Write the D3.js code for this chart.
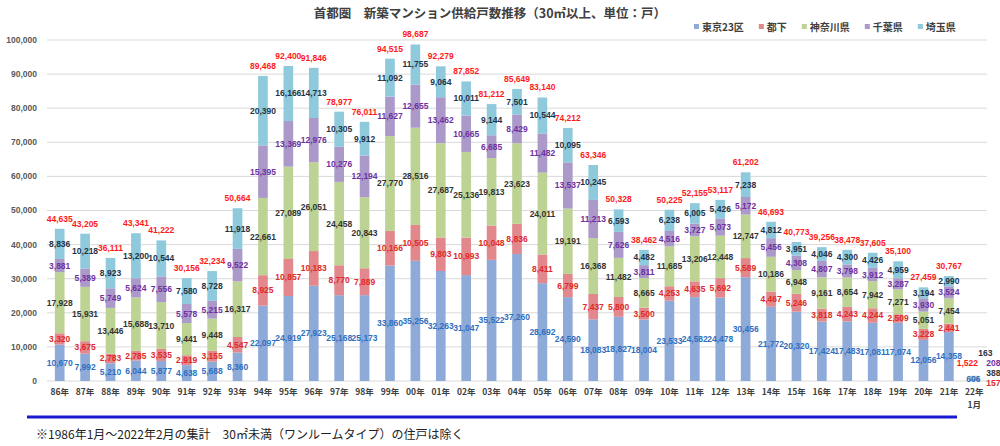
<!DOCTYPE html>
<html lang="ja">
<head>
    <meta charset="UTF-8">
    <title>首都圏 新築マンション供給戸数推移</title>
    <script src="https://cdnjs.cloudflare.com/ajax/libs/d3/7.8.5/d3.min.js"></script>
    <style>
        body {
            margin: 0;
            padding: 0;
            background: #ffffff;
            font-family: "Noto Sans CJK JP", "Liberation Sans", sans-serif;
        }
        .grid line { stroke: #d9d9d9; }
        .val { font-family: "Liberation Sans", Arial, sans-serif; font-size: 8.5px; font-weight: bold; }
        .axis-y { font-family: "Liberation Sans", Arial, sans-serif; font-size: 8.5px; font-weight: bold; fill: #595959; }
        .axis-x { font-family: "Noto Sans CJK JP", sans-serif; font-size: 8.5px; font-weight: bold; fill: #404040; }
    </style>
</head>
<body>
<div id="chart"></div>
<script>
// 年（22年は1月のみ）
const years = ["86年","87年","88年","89年","90年","91年","92年","93年","94年","95年","96年","97年","98年","99年",
    "00年","01年","02年","03年","04年","05年","06年","07年","08年","09年","10年","11年","12年","13年","14年",
    "15年","16年","17年","18年","19年","20年","21年","22年|1月"];

const seriesNames = ["東京23区", "都下", "神奈川県", "千葉県", "埼玉県"];

const tokyo23 = [10670,7992,5210,6044,5877,4638,5688,8360,22097,24919,27923,25168,25173,33860,35256,32263,31047,
    35522,37260,28692,24590,18083,18827,18004,23533,24582,24478,30456,21772,20320,17424,17483,17081,17074,12056,14358,606];
const toka = [3320,3675,2783,2785,3535,2919,3155,4547,8925,10857,10183,8770,7889,10166,10505,9803,10993,
    10048,8836,8411,6799,7437,5800,3500,4253,4635,5692,5589,4467,5246,3818,4243,4244,2509,3228,2441,157];
const kanagawa = [17928,15931,13446,15688,13710,9441,9448,16317,22661,27089,26051,24458,20843,27770,28516,27687,25136,
    19813,23623,24011,19191,16368,11482,8665,11685,13206,12448,12747,10186,6948,9161,8654,7942,7271,5051,7454,388];
const chiba = [3881,5389,5749,5624,7556,5578,5215,9522,15395,13369,12976,10276,12194,11627,12655,13462,10665,
    6685,8429,11482,13537,11213,7626,3811,4516,3727,5073,5172,5456,4308,4807,3798,3912,3287,3930,3524,208];
const saitama = [8836,10218,8923,13200,10544,7580,8728,11918,20390,16166,14713,10305,9912,11092,11755,9064,10011,
    9144,7501,10544,10095,10245,6593,4482,6238,6005,5426,7238,4812,3951,4046,4300,4426,4959,3194,2990,163];
const totals = [44635,43205,36111,43341,41222,30156,32234,50664,89468,92400,91846,78977,76011,94515,98687,92279,87852,
    81212,85649,83140,74212,63346,50328,38462,50225,52155,53117,61202,46693,40773,39256,38478,37605,35100,27459,30767,1522];

const yTicks = [0,10000,20000,30000,40000,50000,60000,70000,80000,90000,100000];

const fillColors = ["#8eaad8", "#e2878b", "#bdd394", "#aa99c9", "#8ec9dc"];
const labelColors = ["#2e6fc0", "#e02a2a", "#333333", "#7030a0", "#1f3347"];

const width = 1000, height = 446;
const svg = d3.select("#chart").append("svg")
    .attr("width", width)
    .attr("height", height);

const x = d3.scaleBand().domain(years).range([47, 987]);
const y = d3.scaleLinear().domain([0, 100000]).range([381, 40]);
const barW = x.bandwidth() * 0.38;

// グリッド
svg.append("g").attr("class", "grid")
    .selectAll("line").data(yTicks).enter().append("line")
    .attr("x1", 47).attr("x2", 987)
    .attr("y1", d => y(d)).attr("y2", d => y(d));

// Y軸ラベル
svg.append("g").selectAll("text").data(yTicks).enter().append("text")
    .attr("class", "axis-y")
    .attr("x", 37).attr("y", d => y(d))
    .attr("dy", "0.35em")
    .attr("text-anchor", "end")
    .text(d => d3.format(",")(d));

// 積み上げ
const rows = years.map((yr, i) => ({
    year: yr,
    "東京23区": tokyo23[i], "都下": toka[i], "神奈川県": kanagawa[i], "千葉県": chiba[i], "埼玉県": saitama[i]
}));
const stacked = d3.stack().keys(seriesNames)(rows);

const bars = svg.append("g");
stacked.forEach((layer, si) => {
    bars.append("g").attr("fill", fillColors[si])
        .selectAll("rect").data(layer).enter().append("rect")
        .attr("x", d => x(d.data.year) + (x.bandwidth() - barW) / 2)
        .attr("y", d => y(d[1]))
        .attr("width", barW)
        .attr("height", d => y(d[0]) - y(d[1]));
});

// 22年1月は小さいので値ラベルを外側に並べる（ピクセルオフセット）
const lastIdx = years.length - 1;
const lastDx = [-1, 19, 19, 19, 11];
const lastDy = [-2, 2, -8, -18, -28];

const labels = svg.append("g");
stacked.forEach((layer, si) => {
    labels.append("g").selectAll("text").data(layer).enter().append("text")
        .attr("class", "val")
        .attr("fill", labelColors[si])
        .attr("text-anchor", "middle")
        .attr("dy", "0.35em")
        .attr("x", (d, i) => x(d.data.year) + x.bandwidth() / 2 + (i === lastIdx ? lastDx[si] : 0))
        .attr("y", (d, i) => i === lastIdx ? y(0) + lastDy[si] : (y(d[0]) + y(d[1])) / 2)
        .text(d => d3.format(",")(d[1] - d[0]));
});

// 合計
labels.append("g").selectAll("text").data(totals).enter().append("text")
    .attr("class", "val")
    .attr("fill", "#ff1a1a")
    .attr("text-anchor", "middle")
    .attr("x", (d, i) => x(years[i]) + x.bandwidth() / 2 + (i === lastIdx ? -7 : 0))
    .attr("y", (d, i) => i === lastIdx ? y(0) - 15 : y(d) - 7)
    .text(d => d3.format(",")(d));

// X軸ラベル
const xl = svg.append("g").selectAll("text").data(years).enter().append("text")
    .attr("class", "axis-x")
    .attr("text-anchor", "middle")
    .attr("x", d => x(d) + x.bandwidth() / 2)
    .attr("y", 395);
xl.each(function(d) {
    const parts = d.split("|");
    const t = d3.select(this);
    parts.forEach((p, k) => {
        t.append("tspan")
            .attr("x", x(d) + x.bandwidth() / 2)
            .attr("dy", k === 0 ? 0 : 13)
            .text(p);
    });
});

// タイトル
svg.append("text")
    .attr("x", 490).attr("y", 18)
    .attr("text-anchor", "middle")
    .attr("font-size", "12.5px")
    .attr("font-weight", "bold")
    .attr("fill", "#404040")
    .text("首都圏　新築マンション供給戸数推移（30㎡以上、単位：戸）");

// 凡例
const legend = svg.append("g").attr("transform", "translate(694,27)");
let lx = 0;
seriesNames.forEach((name, i) => {
    const item = legend.append("g").attr("transform", `translate(${lx},0)`);
    item.append("rect")
        .attr("x", 0).attr("y", -3)
        .attr("width", 5).attr("height", 5)
        .attr("fill", fillColors[i]);
    const t = item.append("text")
        .attr("x", 8).attr("dy", "0.35em")
        .attr("font-size", "10px")
        .attr("font-weight", "bold")
        .attr("fill", "#404040")
        .text(name);
    lx += 8 + t.node().getComputedTextLength() + 15;
});

// 下部の線と注記
svg.append("line")
    .attr("x1", 27).attr("x2", 957)
    .attr("y1", 417).attr("y2", 417)
    .attr("stroke", "#1a1ad0")
    .attr("stroke-width", 3);

svg.append("text")
    .attr("x", 36).attr("y", 439)
    .attr("font-size", "12px")
    .attr("fill", "#222")
    .text("※1986年1月～2022年2月の集計　30㎡未満（ワンルームタイプ）の住戸は除く");
</script>
</body>
</html>
